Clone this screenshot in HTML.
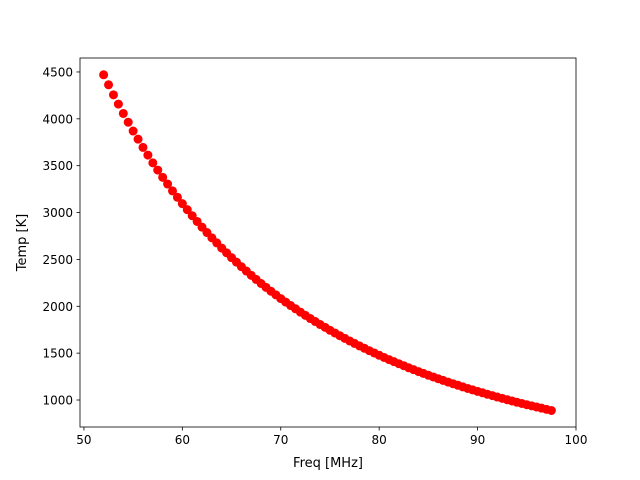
<!DOCTYPE html>
<html><head><meta charset="utf-8"><style>
html,body{margin:0;padding:0;background:#fff;}
svg{display:block;font-family:"DejaVu Sans","Liberation Sans",sans-serif;}
</style></head><body>
<svg id="chart" width="640" height="480">
<rect x="0" y="0" width="640" height="480" fill="#fff"/>
<g id="marks"></g>
<g id="axes"></g>
<text x="328" y="467" font-size="13" text-anchor="middle">Freq [MHz]</text>
<text x="26" y="242.5" font-size="13" text-anchor="middle" transform="rotate(-90 26 242.5)">Temp [K]</text>
</svg>
<script>
const freqs = [52,52.5,53,53.5,54,54.5,55,55.5,56,56.5,57,57.5,58,58.5,59,59.5,60,60.5,61,61.5,62,62.5,63,63.5,64,64.5,65,65.5,66,66.5,67,67.5,68,68.5,69,69.5,70,70.5,71,71.5,72,72.5,73,73.5,74,74.5,75,75.5,76,76.5,77,77.5,78,78.5,79,79.5,80,80.5,81,81.5,82,82.5,83,83.5,84,84.5,85,85.5,86,86.5,87,87.5,88,88.5,89,89.5,90,90.5,91,91.5,92,92.5,93,93.5,94,94.5,95,95.5,96,96.5,97,97.5];
const temps = [4470,4363,4256,4157,4057,3964,3870,3783,3695,3613,3530,3453,3376,3304,3231,3163,3095,3031,2966,2905,2844,2787,2730,2676,2621,2570,2519,2471,2422,2376,2330,2287,2243,2202,2161,2122,2082,2045,2008,1973,1937,1903,1869,1837,1805,1775,1744,1715,1686,1658,1630,1604,1577,1552,1526,1502,1477,1454,1431,1409,1387,1366,1344,1324,1303,1284,1264,1246,1227,1209,1191,1174,1157,1140,1123,1108,1092,1077,1061,1047,1032,1018,1003,990,976,963,950,938,925,913,900,888];
const xTicks = [50,60,70,80,90,100];
const yTicks = [1000,1500,2000,2500,3000,3500,4000,4500];

const L=80,R=576,T=58,B=427;
const xMin=49.6,xMax=100,yMin=712,yMax=4649;
const xs=v=>L+(v-xMin)/(xMax-xMin)*(R-L);
const ys=v=>B-(v-yMin)/(yMax-yMin)*(B-T);
const NS="http://www.w3.org/2000/svg";
const marks=document.getElementById('marks');
const axes=document.getElementById('axes');
function mk(tag,attrs,parent){const e=document.createElementNS(NS,tag);for(const k in attrs)e.setAttribute(k,attrs[k]);parent.appendChild(e);return e;}

freqs.forEach((f,i)=>{
  const c=mk('circle',{cx:xs(f),cy:ys(temps[i]),r:4.5,fill:'#ff0000'},marks);
  
  
});

const frame=mk('rect',{x:L,y:T,width:R-L,height:B-T,fill:'none',stroke:'#000','stroke-width':0.8},axes);



xTicks.forEach(v=>{
  const x=xs(v);
  const t=mk('line',{x1:x,x2:x,y1:B,y2:B+3.5,stroke:'#000','stroke-width':0.8},axes);
  
  
  const l=mk('text',{x:x,y:B+17,'font-size':12,'text-anchor':'middle'},axes);
  l.textContent=v;
  
  
});
yTicks.forEach(v=>{
  const y=ys(v);
  const t=mk('line',{x1:L-3.5,x2:L,y1:y,y2:y,stroke:'#000','stroke-width':0.8},axes);
  
  
  const l=mk('text',{x:L-7,y:y+4.5,'font-size':12,'text-anchor':'end'},axes);
  l.textContent=v;
  
  
});
</script>
</body></html>
